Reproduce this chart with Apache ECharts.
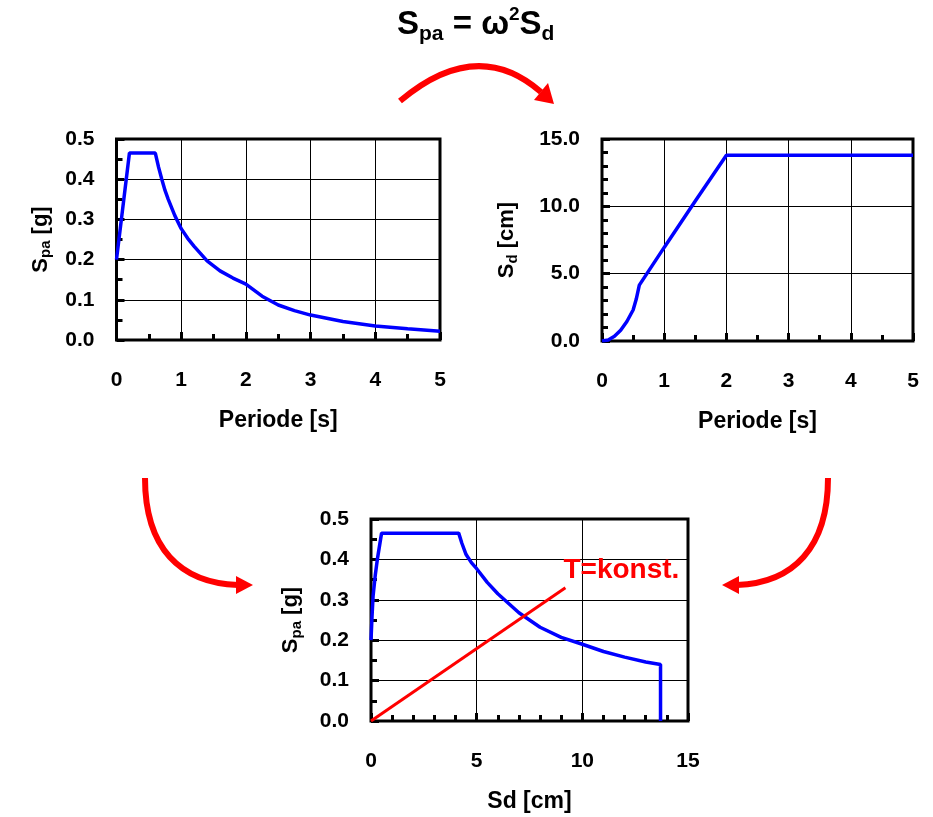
<!DOCTYPE html>
<html>
<head>
<meta charset="utf-8">
<script src="https://cdn.jsdelivr.net/npm/echarts@6/dist/echarts.min.js"></script>
<style>
html,body{margin:0;padding:0;background:#fff;}
#chart{width:933px;height:817px;}
</style>
</head>
<body>
<div id="chart"></div>
<script>
// Top-left: pseudo-acceleration spectrum vs period
var periodA = [0, 0.2, 0.6, 0.65, 0.7, 0.75, 0.8, 0.9, 1.0, 1.1, 1.2, 1.4, 1.6, 1.8, 2.0, 2.25, 2.5, 2.75, 3.0, 3.5, 4.0, 4.5, 5.0];
var spaA    = [0.2, 0.465, 0.465, 0.43, 0.40, 0.372, 0.35, 0.31, 0.277, 0.253, 0.233, 0.197, 0.172, 0.154, 0.139, 0.109, 0.087, 0.073, 0.062, 0.046, 0.035, 0.028, 0.022];

// Top-right: displacement spectrum vs period
var periodB = [0, 0.1, 0.2, 0.3, 0.4, 0.5, 0.55, 0.6, 1.0, 1.5, 2.0, 3.0, 4.0, 5.0];
var sdB     = [0, 0.08, 0.35, 0.8, 1.45, 2.3, 3.1, 4.15, 6.95, 10.4, 13.8, 13.8, 13.8, 13.8];

// Bottom: Spa vs Sd
var sdC  = [0, 0.05, 0.1, 0.2, 0.3, 0.5, 4.15, 4.3, 4.5, 4.75, 5.0, 5.5, 6.0, 7.0, 8.0, 9.0, 10.0, 11.0, 12.0, 13.0, 13.7, 13.7];
var spaC = [0.2, 0.26, 0.31, 0.36, 0.40, 0.465, 0.465, 0.44, 0.412, 0.392, 0.377, 0.343, 0.315, 0.268, 0.232, 0.207, 0.19, 0.172, 0.158, 0.146, 0.14, 0];

// Bottom: constant period line
var sdT  = [0, 9.2];
var spaT = [0, 0.33];

// Tick labels / ranges
var xTicksPeriod = [0, 1, 2, 3, 4, 5];
var yTicksSpa = [0.0, 0.1, 0.2, 0.3, 0.4, 0.5];
var yTicksSd = [0.0, 5.0, 10.0, 15.0];
var xTicksSd = [0, 5, 10, 15];

function zip(a, b) { return a.map(function (v, i) { return [v, b[i]]; }); }

var FONT = 'Liberation Sans, Arial, sans-serif';
var chart = echarts.init(document.getElementById('chart'), null, {renderer: 'canvas'});

function xAxisCfg(gi, ticks, name, minorSplit) {
  return {
    type: 'value', gridIndex: gi,
    min: ticks[0], max: ticks[ticks.length - 1], interval: ticks[1] - ticks[0],
    name: name, nameLocation: 'middle', nameGap: 69,
    nameTextStyle: {fontFamily: FONT, fontWeight: 'bold', fontSize: 23, color: '#000'},
    axisLine: {show: false},
    axisTick: {show: true, inside: true, length: 8, lineStyle: {color: '#000', width: 3}},
    minorTick: {show: true, splitNumber: minorSplit, length: 6, lineStyle: {color: '#000', width: 3}},
    splitLine: {show: true, lineStyle: {color: '#000', width: 1}},
    axisLabel: {margin: 30, fontFamily: FONT, fontWeight: 'bold', fontSize: 21, color: '#000'}
  };
}
function yAxisCfg(gi, ticks, name, minorSplit, gap) {
  return {
    type: 'value', gridIndex: gi,
    min: ticks[0], max: ticks[ticks.length - 1], interval: ticks[1] - ticks[0],
    name: name, nameLocation: 'middle', nameGap: gap, nameRotate: 90,
    nameTextStyle: {
      fontFamily: FONT, fontWeight: 'bold', fontSize: 22, color: '#000',
      rich: {
        s: {fontFamily: FONT, fontWeight: 'bold', fontSize: 22, color: '#000', lineHeight: 26},
        sub: {fontFamily: FONT, fontWeight: 'bold', fontSize: 15, color: '#000', lineHeight: 14, verticalAlign: 'bottom'}
      }
    },
    axisLine: {show: false},
    axisTick: {show: true, inside: true, length: 8, lineStyle: {color: '#000', width: 3}},
    minorTick: {show: true, splitNumber: minorSplit, length: 6, lineStyle: {color: '#000', width: 3}},
    splitLine: {show: true, lineStyle: {color: '#000', width: 1}},
    axisLabel: {margin: 22, fontFamily: FONT, fontWeight: 'bold', fontSize: 21, color: '#000',
      formatter: function (v) { return v.toFixed(1); }}
  };
}

var gridStyle = {show: true, borderColor: '#000', borderWidth: 3, backgroundColor: 'transparent'};

var RED = '#ff0000';
var arrowStyle = {stroke: RED, lineWidth: 6, fill: null};

var option = {
  animation: false,
  backgroundColor: '#fff',
  title: {
    text: '{a|S}{b|pa}{a| = ω}{c|2}{a|S}{b|d}',
    left: 392, top: 0,
    textStyle: {
      fontFamily: FONT, fontWeight: 'bold', fontSize: 32, color: '#000',
      rich: {
        a: {fontFamily: FONT, fontWeight: 'bold', fontSize: 33, color: '#000', lineHeight: 40},
        b: {fontFamily: FONT, fontWeight: 'bold', fontSize: 21, color: '#000', lineHeight: 21, verticalAlign: 'bottom'},
        c: {fontFamily: FONT, fontWeight: 'bold', fontSize: 19, color: '#000', lineHeight: 24, verticalAlign: 'top'}
      }
    }
  },
  grid: [
    Object.assign({left: 116.5, top: 139, width: 323.5, height: 201}, gridStyle),
    Object.assign({left: 602, top: 139, width: 311, height: 202}, gridStyle),
    Object.assign({left: 371, top: 519, width: 317, height: 202}, gridStyle)
  ],
  xAxis: [
    xAxisCfg(0, xTicksPeriod, 'Periode [s]', 2),
    xAxisCfg(1, xTicksPeriod, 'Periode [s]', 2),
    xAxisCfg(2, xTicksSd, 'Sd [cm]', 5)
  ],
  yAxis: [
    yAxisCfg(0, yTicksSpa, '{s|S}{sub|pa}{s| [g]}', 2, 63),
    yAxisCfg(1, yTicksSd, '{s|S}{sub|d}{s| [cm]}', 5, 82),
    yAxisCfg(2, yTicksSpa, '{s|S}{sub|pa}{s| [g]}', 2, 67)
  ],
  series: [
    {type: 'line', xAxisIndex: 0, yAxisIndex: 0, data: zip(periodA, spaA), showSymbol: false, symbol: 'none',
      lineStyle: {color: '#0000ff', width: 3.5}, z: 5},
    {type: 'line', xAxisIndex: 1, yAxisIndex: 1, data: zip(periodB, sdB), showSymbol: false, symbol: 'none',
      lineStyle: {color: '#0000ff', width: 3.5}, z: 5},
    {type: 'line', xAxisIndex: 2, yAxisIndex: 2, data: zip(sdC, spaC), showSymbol: false, symbol: 'none',
      lineStyle: {color: '#0000ff', width: 3.5}, z: 5},
    {type: 'line', xAxisIndex: 2, yAxisIndex: 2, data: zip(sdT, spaT), showSymbol: false, symbol: 'none',
      lineStyle: {color: RED, width: 3}, z: 6,
      endLabel: {show: true, formatter: 'T=konst.', distance: 0, offset: [-2, -17],
        fontFamily: FONT, fontWeight: 'bold', fontSize: 28, color: RED}}
  ],
  graphic: [
    {type: 'bezierCurve', shape: {x1: 400, y1: 101, x2: 541, y2: 92, cpx1: 477, cpy1: 36}, style: arrowStyle},
    {type: 'polygon', shape: {points: [[554, 104], [534, 100], [548, 83]]}, style: {fill: RED}},
    {type: 'bezierCurve', shape: {x1: 145, y1: 478, x2: 238, y2: 585, cpx1: 145, cpy1: 548, cpx2: 180, cpy2: 583}, style: arrowStyle},
    {type: 'polygon', shape: {points: [[253, 585], [236, 576], [236, 594]]}, style: {fill: RED}},
    {type: 'bezierCurve', shape: {x1: 828, y1: 478, x2: 737, y2: 585, cpx1: 828, cpy1: 548, cpx2: 793, cpy2: 583}, style: arrowStyle},
    {type: 'polygon', shape: {points: [[722, 585], [739, 576], [739, 594]]}, style: {fill: RED}}
  ]
};
chart.setOption(option);
</script>
</body>
</html>
